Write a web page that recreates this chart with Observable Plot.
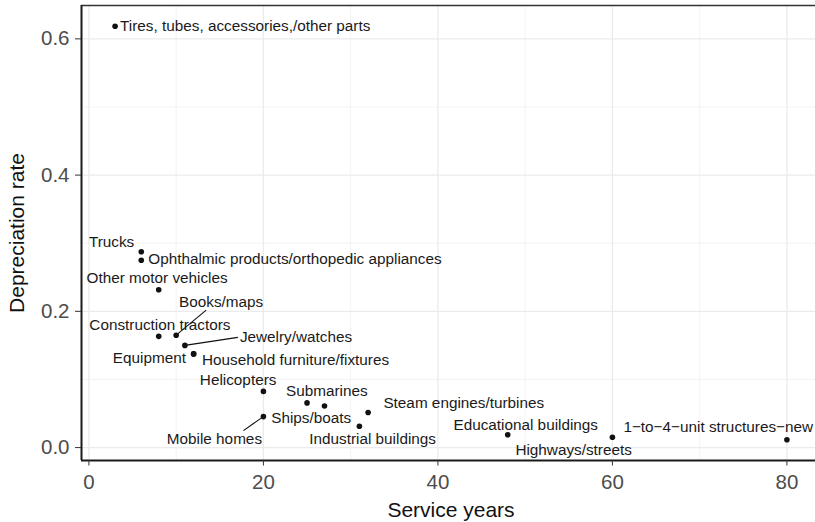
<!DOCTYPE html>
<html>
<head>
<meta charset="utf-8">
<script src="https://cdn.jsdelivr.net/npm/d3@7"></script>
<script src="https://cdn.jsdelivr.net/npm/@observablehq/plot@0.6"></script>
<style>
  html, body { margin: 0; padding: 0; background: #fff; }
  #chart svg { display: block; }
</style>
</head>
<body>
<div id="chart"></div>
<script>
// ---- Data ----
const assets = [
  "Tires, tubes, accessories,/other parts",
  "Trucks",
  "Ophthalmic products/orthopedic appliances",
  "Other motor vehicles",
  "Books/maps",
  "Construction tractors",
  "Jewelry/watches",
  "Equipment",
  "Household furniture/fixtures",
  "Helicopters",
  "Submarines",
  "Ships/boats",
  "Mobile homes",
  "Steam engines/turbines",
  "Industrial buildings",
  "Educational buildings",
  "Highways/streets",
  "1\u2212to\u22124\u2212unit structures\u2212new"
];
const serviceYears = [3, 6, 6, 8, 10, 8, 11, 12, 12, 20, 25, 27, 20, 32, 31, 48, 60, 80];
const depreciationRate = [0.6186, 0.2874, 0.2750, 0.2316, 0.1650, 0.1633, 0.1500, 0.1375, 0.1375,
  0.0825, 0.0656, 0.0611, 0.0455, 0.0516, 0.0314, 0.0188, 0.0152, 0.0114];
const xTicks = [0, 20, 40, 60, 80];
const xMinor = [10, 30, 50, 70];
const yTicks = [0, 0.2, 0.4, 0.6];
const yMinor = [0.1, 0.3, 0.5];

// ---- Label placement (pixel offsets from each point, like a repel layout) ----
// [anchor, dx, dy, segmentEndDx?, segmentEndDy?]
const labelLayout = [
  ["start", 5, 0],
  ["end", -7, -10],
  ["start", 7, -1.5],
  ["middle", -1.6, -11.7],
  ["middle", 45, -32.6, 30, -25],
  ["middle", 1.2, -11.7],
  ["start", 55, -8, 53, -8],
  ["end", -7.6, 3.7],
  ["start", 8.4, 6],
  ["middle", -25.3, -11.7],
  ["middle", 19.8, -11.7],
  ["middle", -13.3, 11.7],
  ["middle", -49, 22.6, -20, 14],
  ["start", 15.3, -9.4],
  ["middle", 13.2, 12.6],
  ["middle", 18, -10],
  ["middle", -38.8, 12.7],
  ["middle", -68.7, -12.3]
];

const data = assets.map((name, i) => ({name, years: serviceYears[i], rate: depreciationRate[i]}));

// ggplot-style 5% expansion
const xExt = d3.extent(serviceYears), yExt = d3.extent(depreciationRate);
const xPad = (xExt[1] - xExt[0]) * 0.05, yPad = (yExt[1] - yExt[0]) * 0.05;
const xDomain = [xExt[0] - xPad, xExt[1] + xPad];
const yDomain = [yExt[0] - yPad, yExt[1] + yPad];

const W = 815, H = 522, mL = 81, mR = -5, mT = 5, mB = 62;
const kx = (W - mL - mR) / (xDomain[1] - xDomain[0]);
const ky = (H - mT - mB) / (yDomain[1] - yDomain[0]);

const labels = data.map((d, i) => {
  const [anchor, dx, dy, sx, sy] = labelLayout[i];
  return {
    ...d, anchor,
    lx: d.years + dx / kx, ly: d.rate - dy / ky,
    seg: sx !== undefined,
    sx: sx !== undefined ? d.years + sx / kx : null,
    sy: sy !== undefined ? d.rate - sy / ky : null
  };
});
const segs = labels.filter(d => d.seg);

const labelText = a => Plot.text(labels.filter(d => d.anchor === a), {
  x: "lx", y: "ly", text: "name", textAnchor: a, fontSize: 15.3, fill: "#1a1a1a"
});

const chart = Plot.plot({
  width: W, height: H,
  marginLeft: mL, marginRight: mR, marginTop: mT, marginBottom: mB,
  x: {domain: xDomain},
  y: {domain: yDomain},
  style: {fontFamily: "'Liberation Sans', Arial, Helvetica, sans-serif", background: "#fff", overflow: "visible"},
  marks: [
    Plot.gridX({ticks: xMinor, stroke: "#f0f0f0", strokeOpacity: 1, strokeWidth: 0.8}),
    Plot.gridY({ticks: yMinor, stroke: "#f0f0f0", strokeOpacity: 1, strokeWidth: 0.8}),
    Plot.gridX({ticks: xTicks, stroke: "#ebebeb", strokeOpacity: 1, strokeWidth: 1.3}),
    Plot.gridY({ticks: yTicks, stroke: "#ebebeb", strokeOpacity: 1, strokeWidth: 1.3}),
    Plot.ruleY([yDomain[1]], {stroke: "#333", strokeWidth: 1.6}),
    Plot.ruleX([xDomain[0]], {stroke: "#1a1a1a", strokeWidth: 2}),
    Plot.ruleY([yDomain[0]], {stroke: "#1a1a1a", strokeWidth: 2}),
    Plot.axisX({ticks: xTicks, tickSize: 5.5, tickPadding: 8, fontSize: 20.5, label: null,
      stroke: "#333", fill: "#4d4d4d"}),
    Plot.axisY({ticks: yTicks, tickSize: 6, tickPadding: 6, fontSize: 20.5, label: null,
      tickFormat: ".1f", stroke: "#333", fill: "#4d4d4d"}),
    Plot.text(["Service years"], {frameAnchor: "bottom", lineAnchor: "middle", textAnchor: "middle",
      dy: 50, fontSize: 21, fill: "#111"}),
    Plot.text(["Depreciation rate"], {frameAnchor: "left", lineAnchor: "middle", textAnchor: "middle",
      dx: -64, rotate: -90, fontSize: 21, fill: "#111"}),
    Plot.link(segs, {x1: "years", y1: "rate", x2: "sx", y2: "sy", stroke: "#111", strokeWidth: 1.1}),
    Plot.dot(data, {x: "years", y: "rate", r: 2.8, fill: "#111", stroke: "none"}),
    labelText("start"),
    labelText("middle"),
    labelText("end")
  ]
});
document.getElementById("chart").appendChild(chart);
</script>
</body>
</html>
